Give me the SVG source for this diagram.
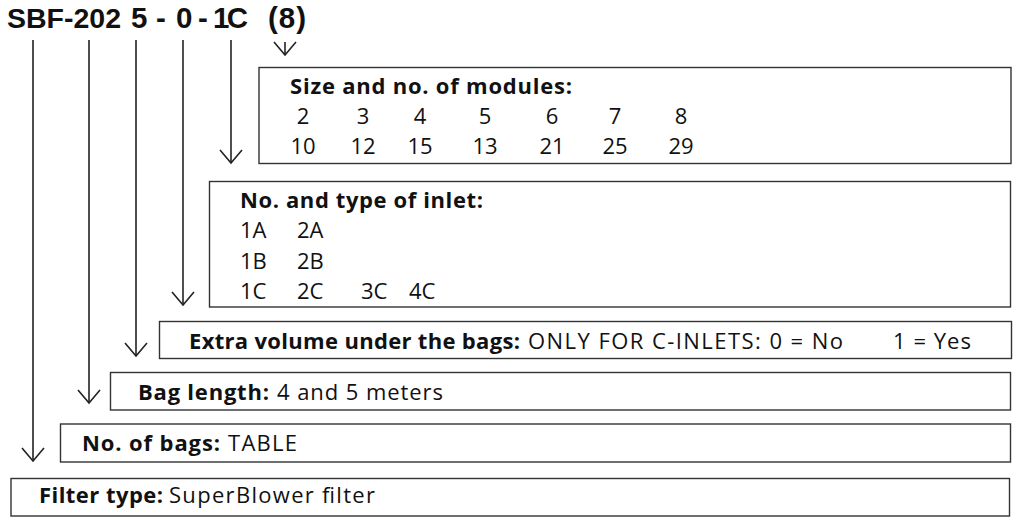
<svg xmlns="http://www.w3.org/2000/svg" width="1021" height="525" viewBox="0 0 1021 525">
<defs>
<marker id="v" markerUnits="userSpaceOnUse" markerWidth="30" markerHeight="30" refX="0" refY="0" orient="auto" overflow="visible">
<path d="M-13,-11 L0,0 L-13,11" fill="none" stroke="#222" stroke-width="1.6"/>
</marker>
<style>
.box{fill:#fff;stroke:#333;stroke-width:1.4}
.t{font-family:"Open Sans","Noto Sans",sans-serif;font-size:22px;fill:#111}
.h{font-family:"Liberation Sans",Arial,sans-serif;font-size:29.5px;font-weight:bold}
.b{font-weight:bold}
.m{text-anchor:middle}
.con{stroke:#222;stroke-width:1.6;fill:none}
</style>
</defs>
<rect width="1021" height="525" fill="#fff"/>
<g id="code">
<text class="t h" x="7" y="28" style="font-size:28.5px">SBF-202</text>
<text class="t h" x="131" y="28">5</text>
<text class="t h" x="156" y="28">-</text>
<text class="t h" x="176" y="28">0</text>
<text class="t h" x="198" y="28">-</text>
<text class="t h" x="213" y="28" textLength="35">1C</text>
<text class="t h" x="268" y="28" textLength="38">(8)</text>
</g>
<g id="connectors">
<line class="con" x1="33" y1="40" x2="33" y2="461" marker-end="url(#v)"/>
<line class="con" x1="89" y1="40" x2="89" y2="403" marker-end="url(#v)"/>
<line class="con" x1="136" y1="40" x2="136" y2="356" marker-end="url(#v)"/>
<line class="con" x1="183" y1="40" x2="183" y2="305" marker-end="url(#v)"/>
<line class="con" x1="231" y1="40" x2="231" y2="163" marker-end="url(#v)"/>
<line class="con" x1="285" y1="42" x2="285" y2="55" marker-end="url(#v)"/>
</g>
<g id="modules">
<rect class="box" x="259" y="67.5" width="752" height="96"/>
<text class="t b" x="290" y="94" textLength="282">Size and no. of modules:</text>
<g class="t m">
<text x="303" y="124">2</text><text x="363" y="124">3</text><text x="420" y="124">4</text><text x="485" y="124">5</text><text x="552" y="124">6</text><text x="615" y="124">7</text><text x="681" y="124">8</text>
<text x="303" y="154">10</text><text x="363" y="154">12</text><text x="420" y="154">15</text><text x="485" y="154">13</text><text x="552" y="154">21</text><text x="615" y="154">25</text><text x="681" y="154">29</text>
</g>
</g>
<g id="inlet">
<rect class="box" x="209.5" y="181.5" width="801" height="125.5"/>
<text class="t b" x="240" y="208" textLength="243">No. and type of inlet:</text>
<text class="t" x="240" y="238">1A</text><text class="t" x="297" y="238">2A</text>
<text class="t" x="240" y="269">1B</text><text class="t" x="297" y="269">2B</text>
<text class="t" x="240" y="299">1C</text><text class="t" x="297" y="299">2C</text><text class="t" x="361" y="299">3C</text><text class="t" x="409" y="299">4C</text>
</g>
<g id="extra">
<rect class="box" x="159.5" y="321.5" width="852" height="37"/>
<text class="t b" x="189" y="349" textLength="331">Extra volume under the bags:</text>
<text class="t" x="528" y="349" textLength="315">ONLY FOR C-INLETS: 0 = No</text>
<text class="t" x="893" y="349" textLength="78">1 = Yes</text>
</g>
<g id="baglength">
<rect class="box" x="110.5" y="372.5" width="900" height="37.5"/>
<text class="t b" x="138" y="400" textLength="131">Bag length:</text>
<text class="t" x="277" y="400" textLength="166">4 and 5 meters</text>
</g>
<g id="bags">
<rect class="box" x="60.5" y="424" width="950" height="38"/>
<text class="t b" x="82" y="451" textLength="138">No. of bags:</text>
<text class="t" x="228" y="451" textLength="69">TABLE</text>
</g>
<g id="filtertype">
<rect class="box" x="11" y="478.5" width="998.5" height="37.5"/>
<text class="t b" x="39" y="503" textLength="124">Filter type:</text>
<text class="t" x="169" y="503" textLength="206">SuperBlower filter</text>
</g>
</svg>
